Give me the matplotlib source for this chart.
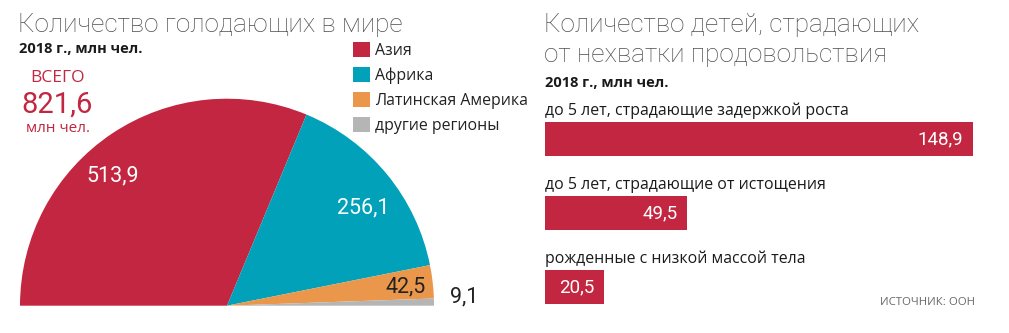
import matplotlib
matplotlib.use("Agg")
import matplotlib.pyplot as plt
import numpy as np

# ---------------- data ----------------
regions = ["Азия", "Африка", "Латинская Америка", "другие регионы"]
hungry = [513.9, 256.1, 42.5, 9.1]          # млн чел., 2018
region_colors = ["#C22640", "#00A1B9", "#EB974B", "#B5B5B5"]
label_colors = ["white", "white", "#222222", "#222222"]

child_categories = [
    "до 5 лет, страдающие задержкой роста",
    "до 5 лет, страдающие от истощения",
    "рожденные с низкой массой тела",
]
child_values = [148.9, 49.5, 20.5]
bar_color = "#C22640"

left_title = "Количество голодающих в мире"
right_title_lines = ["Количество детей, страдающих", "от нехватки продовольствия"]
subtitle = "2018 г., млн чел."
source = "ИСТОЧНИК: ООН"

# ---------------- styling ----------------
W, H = 1009, 333
TXT = ["Open Sans", "DejaVu Sans"]
NUM = ["Roboto", "DejaVu Sans"]
TTL = ["Roboto", "DejaVu Sans"]
plt.rcParams["font.family"] = TXT

def fmt(v):
    return f"{v:.1f}".replace(".", ",")

def fx(x):
    return x / W

def fy(y):
    return 1 - y / H

fig = plt.figure(figsize=(W / 100, H / 100), dpi=100)
fig.patch.set_facecolor("white")

# ---------------- left: half pie ----------------
cx, cy, R = 227, 305.7, 207
ax_pie = fig.add_axes([fx(cx - R), fy(cy + R), 2 * R / W, 2 * R / H])
total = sum(hungry)
wedges, _ = ax_pie.pie(hungry + [total], radius=1, startangle=180,
                       counterclock=False,
                       colors=region_colors + ["none"],
                       wedgeprops=dict(linewidth=0))
wedges[-1].set_visible(False)
ax_pie.set_xlim(-1, 1)
ax_pie.set_ylim(-1, 1)
ax_pie.set_aspect("equal")
ax_pie.axis("off")

# label placement: (angle offset in degrees from wedge middle, radius)
lbl_place = [(7.5, 0.835), (-3.5, 0.81), (-0.6, 0.87), (1.1, 1.145)]
for w, v, c, (da, r) in zip(wedges[:-1], hungry, label_colors, lbl_place):
    ang = np.deg2rad((w.theta1 + w.theta2) / 2 + da)
    ax_pie.text(r * np.cos(ang), r * np.sin(ang), fmt(v), ha="center", va="center",
                color=c, fontsize=15.5, family=NUM, clip_on=False)

# total
fig.text(fx(58), fy(78), "ВСЕГО", color="#C22640", fontsize=12.5, ha="center", va="center")
fig.text(fx(57), fy(104.5), fmt(total), color="#C22640", fontsize=21, ha="center",
         va="center", family=NUM)
fig.text(fx(58), fy(128), "млн чел.", color="#C22640", fontsize=11, ha="center", va="center")

# titles
fig.text(fx(18), fy(32), left_title, fontsize=18.8, color="#4D4D4D", weight="light",
         family=TTL, va="baseline", ha="left")
fig.text(fx(19), fy(53), subtitle, fontsize=10.5, color="#1A1A1A", weight="bold",
         va="baseline", ha="left")

# legend
leg = fig.legend(wedges[:-1], regions, loc="upper left",
                 bbox_to_anchor=(fx(353), fy(42)), frameon=False, fontsize=11.4,
                 handlelength=1.1, handleheight=1.1, handletextpad=0.28,
                 labelspacing=0.5, borderpad=0, borderaxespad=0)
for t in leg.get_texts():
    t.set_color("#222222")

# ---------------- right: bars ----------------
pitch = 74
ax_bar = fig.add_axes([fx(545), fy(139 - pitch / 2 + 3 * pitch), 428 / W, 3 * pitch / H])
ypos = list(range(len(child_values)))
bh = 0.46
ax_bar.barh(ypos, child_values, height=bh, color=bar_color, linewidth=0)
ax_bar.set_xlim(0, max(child_values))
ax_bar.set_ylim(len(child_values) - 0.5, -0.5)
ax_bar.axis("off")
for y, v, lab in zip(ypos, child_values, child_categories):
    ax_bar.annotate(fmt(v), xy=(v, y), xytext=(-10, 0), textcoords="offset pixels",
                    ha="right", va="center", color="white", fontsize=13.5, family=NUM)
    ax_bar.annotate(lab, xy=(0, y - bh / 2), xytext=(0, 7), textcoords="offset pixels",
                    ha="left", va="baseline", color="#1A1A1A", fontsize=11.4,
                    annotation_clip=False)

for i, line in enumerate(right_title_lines):
    fig.text(fx(544), fy(32 + 30 * i), line, fontsize=18.8, color="#4D4D4D",
             weight="light", family=TTL, va="baseline", ha="left")
fig.text(fx(545), fy(87), subtitle, fontsize=10.5, color="#1A1A1A", weight="bold",
         va="baseline", ha="left")
fig.text(fx(975), fy(305), source, fontsize=8.2, color="#666666", ha="right",
         va="baseline")

fig.savefig("out.png", dpi=100, facecolor="white")
